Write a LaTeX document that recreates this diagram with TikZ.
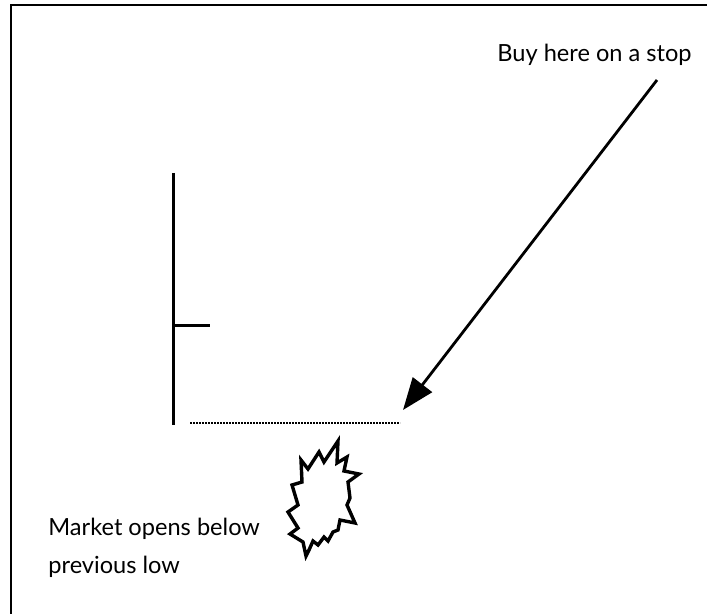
\documentclass[tikz,border=0pt]{standalone}
\usepackage{fontspec}
\setmainfont{Lato}
\usetikzlibrary{arrows.meta}
\tikzset{
  lbl/.style={inner sep=0pt, anchor=base west, font=\fontsize{11.8}{19}\selectfont, align=left},
  barline/.style={line width=1.5pt},
  lowline/.style={line width=1pt, dash pattern=on 1.2pt off 0.3pt},
}
\begin{document}
\begin{tikzpicture}[x=0.5pt,y=-0.5pt]
  \useasboundingbox (0,0) rectangle (707,614);
  % frame
  \draw[line width=1.1pt] (11,614) -- (11,5) -- (707,5);

  % price bar
  \coordinate (bartop) at (173,173);
  \coordinate (barbot) at (173,425);
  \coordinate (close) at (173,326);
  \coordinate (closeend) at (210,326);
  \draw[barline] (bartop) -- (barbot);
  \draw[barline] (close) -- (closeend);

  % previous low
  \coordinate (lowl) at (190,423);
  \coordinate (lowr) at (400,423);
  \draw[lowline] (lowl) -- (lowr);

  % labels
  \node[lbl] (buy) at (497,62) {Buy here on a stop};
  \node[lbl] (market) at (48,574) {Market opens below\\previous low};

  % arrow to the stop
  \coordinate (arrtail) at (657,80);
  \coordinate (stop) at (403,410);
  \draw[line width=1.4pt, -{Triangle[length=16pt,width=12pt]}] (arrtail) -- (stop);

  % gap down
  \draw[line width=1.7pt, line join=miter] (301,460)
    \foreach \p in {(308,469),(319,452),(324,462),(338,441),(337,463),(347,457),
      (344,471),(359,474),(348,482),(350,498),(347,505),(355,523),(340,520),
      (338,530),(333,532),(328,541),(324,537),(318,545),(313,541),(309,550),
      (306,556),(303,542),(290,534),(298,528),(288,512),(298,505),(292,485),
      (302,482)} { -- \p } -- cycle;
\end{tikzpicture}
\end{document}
